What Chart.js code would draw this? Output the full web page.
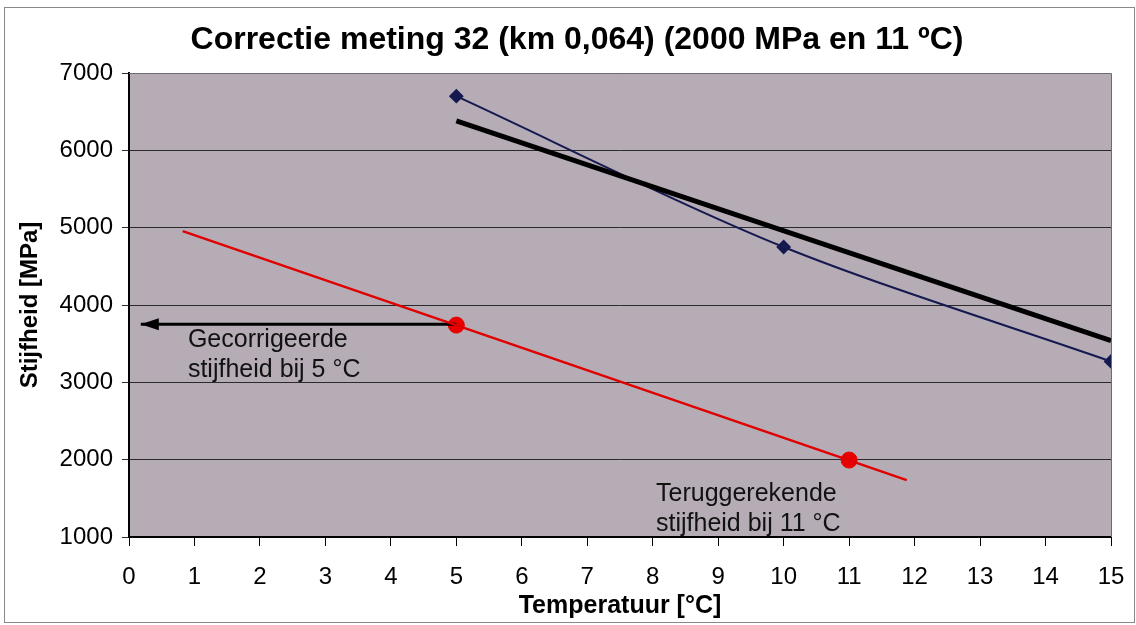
<!DOCTYPE html>
<html>
<head>
<meta charset="utf-8">
<script src="https://cdn.jsdelivr.net/npm/chart.js@4/dist/chart.umd.min.js"></script>
<style>
  html, body { margin: 0; padding: 0; background: #ffffff; }
  #wrap { width: 1136px; height: 625px; position: relative; }
</style>
</head>
<body>
<div id="wrap"><canvas id="chart" width="1136" height="625"></canvas></div>
<script>
// Data
const measuredTemp = [5, 10, 15];
const measuredStiffness = [6700, 4750, 3270];

const trendTemp = [5, 15];
const trendStiffness = [6380, 3540];

const correctionTemp = [0.82, 11.88];
const correctionStiffness = [4956, 1735];

const markerTemp = [5, 11];
const markerStiffness = [3740, 1995];

const arrowTemp = [5, 0.18];
const arrowStiffness = [3750, 3750];

const xTicks = [0, 1, 2, 3, 4, 5, 6, 7, 8, 9, 10, 11, 12, 13, 14, 15];
const yTicks = [1000, 2000, 3000, 4000, 5000, 6000, 7000];

const titleText = 'Correctie meting 32 (km 0,064) (2000 MPa en 11 ºC)';

const notes = [
    { x: 0.9, y: 3550, lines: ['Gecorrigeerde', 'stijfheid bij 5 °C'] },
    { x: 8.05, y: 1550, lines: ['Teruggerekende', 'stijfheid bij 11 °C'] }
];

function toPoints(xs, ys) {
    return xs.map((x, i) => ({ x, y: ys[i] }));
}

const FONT = '"Liberation Sans", Arial, sans-serif';

// background, frame, title, arrow head and text notes
const decorations = {
    id: 'decorations',
    beforeDraw(chart) {
        const { ctx, chartArea: a } = chart;
        ctx.save();
        ctx.fillStyle = '#ffffff';
        ctx.fillRect(0, 0, chart.width, chart.height);
        ctx.strokeStyle = '#8a8a8a';
        ctx.lineWidth = 1;
        ctx.strokeRect(4.5, 7.5, chart.width - 6, chart.height - 10);
        ctx.fillStyle = '#b5acb6';
        ctx.fillRect(a.left, a.top, a.right - a.left, a.bottom - a.top);

        // title, centred a bit right of the canvas middle like the original
        ctx.font = 'bold 32px ' + FONT;
        ctx.fillStyle = '#000000';
        ctx.textAlign = 'center';
        ctx.textBaseline = 'middle';
        ctx.fillText(titleText, 577, 40);
        ctx.restore();
    },
    afterDatasetsDraw(chart) {
        const { ctx, chartArea: a, scales } = chart;
        ctx.save();
        // plot border top / right
        ctx.strokeStyle = '#6e6a78';
        ctx.lineWidth = 1;
        ctx.beginPath();
        ctx.moveTo(a.left, a.top + 0.5);
        ctx.lineTo(a.right + 0.5, a.top + 0.5);
        ctx.lineTo(a.right + 0.5, a.bottom);
        ctx.stroke();

        // arrow head
        const tipX = scales.x.getPixelForValue(arrowTemp[1]);
        const tipY = scales.y.getPixelForValue(arrowStiffness[1]);
        ctx.fillStyle = '#000000';
        ctx.beginPath();
        ctx.moveTo(tipX, tipY);
        ctx.lineTo(tipX + 18, tipY - 6);
        ctx.lineTo(tipX + 18, tipY + 6);
        ctx.closePath();
        ctx.fill();

        // notes
        ctx.font = '25px ' + FONT;
        ctx.fillStyle = '#111111';
        ctx.textBaseline = 'middle';
        ctx.textAlign = 'left';
        notes.forEach(n => {
            const px = scales.x.getPixelForValue(n.x);
            const py = scales.y.getPixelForValue(n.y);
            n.lines.forEach((line, i) => ctx.fillText(line, px, py + i * 30));
        });
        ctx.restore();
    }
};

const chart = new Chart(document.getElementById('chart'), {
    type: 'scatter',
    data: {
        datasets: [
            {
                label: 'Correctie',
                data: toPoints(correctionTemp, correctionStiffness),
                showLine: true,
                borderColor: '#e00000',
                borderWidth: 2.5,
                pointRadius: 0
            },
            {
                label: 'Arrow',
                data: toPoints(arrowTemp, arrowStiffness),
                showLine: true,
                borderColor: '#000000',
                borderWidth: 3,
                pointRadius: 0
            },
            {
                label: 'Punten',
                data: toPoints(markerTemp, markerStiffness),
                showLine: false,
                backgroundColor: '#e80000',
                borderColor: '#e80000',
                pointRadius: 8
            },
            {
                label: 'Trend',
                data: toPoints(trendTemp, trendStiffness),
                showLine: true,
                borderColor: '#000000',
                borderWidth: 5,
                pointRadius: 0
            },
            {
                label: 'Meting',
                data: toPoints(measuredTemp, measuredStiffness),
                showLine: true,
                tension: 0.3,
                borderColor: '#15194f',
                borderWidth: 2,
                pointStyle: 'rectRot',
                pointRadius: 6,
                backgroundColor: '#15194f'
            }
        ]
    },
    options: {
        responsive: false,
        animation: false,
        layout: { padding: { left: 10, right: 25, top: 73, bottom: 4 } },
        plugins: {
            legend: { display: false },
            tooltip: { enabled: false },
            title: { display: false }
        },
        scales: {
            x: {
                type: 'linear',
                min: 0,
                max: 15,
                afterBuildTicks: s => { s.ticks = xTicks.map(v => ({ value: v })); },
                afterFit: s => { s.height = 84; s.paddingRight = 0; s.paddingLeft = 0; },
                border: { color: '#000000', width: 2 },
                grid: { drawOnChartArea: false, color: '#000000', tickLength: 9 },
                ticks: { color: '#000000', font: { family: FONT, size: 24 }, padding: 17, maxRotation: 0 },
                title: {
                    display: true,
                    text: 'Temperatuur [°C]',
                    color: '#000000',
                    font: { family: FONT, size: 25, weight: 'bold' },
                    padding: { top: 0, bottom: 0 }
                }
            },
            y: {
                min: 1000,
                max: 7000,
                afterBuildTicks: s => { s.ticks = yTicks.map(v => ({ value: v })); },
                afterFit: s => { s.width = 119; s.paddingTop = 0; s.paddingBottom = 0; },
                border: { color: '#000000', width: 2 },
                grid: { color: '#2a2a2a', lineWidth: 1, tickLength: 7 },
                ticks: {
                    color: '#000000',
                    font: { family: FONT, size: 24 },
                    padding: 9,
                    callback: v => String(v)
                },
                title: {
                    display: true,
                    text: 'Stijfheid [MPa]',
                    color: '#000000',
                    font: { family: FONT, size: 24, weight: 'bold' },
                    padding: { top: 6, bottom: 0 }
                }
            }
        }
    },
    plugins: [decorations]
});
</script>
</body>
</html>
